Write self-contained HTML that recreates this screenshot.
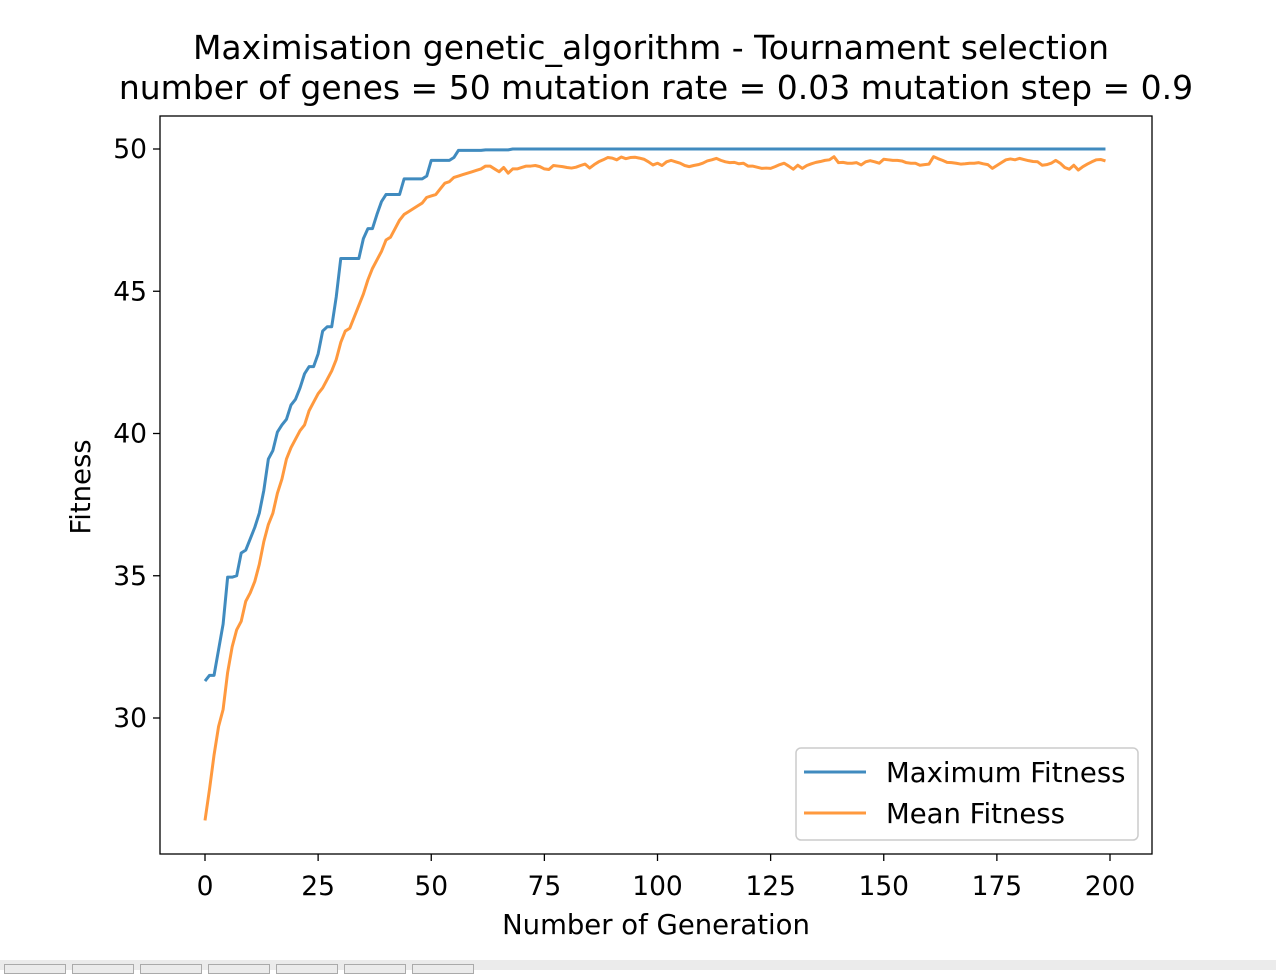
<!DOCTYPE html>
<html><head><meta charset="utf-8"><style>
body{margin:0;background:#fff;width:1276px;height:970px;overflow:hidden;position:relative;font-family:"Liberation Sans","DejaVu Sans",sans-serif}
#strip{position:absolute;left:0;top:960px;width:1276px;height:10px;background:#ebebeb}
.btn{position:absolute;top:964px;width:62px;height:10px;border:1px solid #aaa;box-sizing:border-box;background:#ebebeb}
</style></head><body>
<svg id="chart" width="1276" height="960" style="position:absolute;left:0;top:0" font-family="DejaVu Sans, Liberation Sans, sans-serif">
<text x="651" y="59" font-size="33" text-anchor="middle" fill="#000">Maximisation genetic_algorithm - Tournament selection</text>
<text x="656" y="99" font-size="33" text-anchor="middle" fill="#000">number of genes = 50 mutation rate = 0.03 mutation step = 0.9</text>
<g id="xt"></g><g id="yt"></g>
<g id="lines"></g>
<rect x="160" y="116" width="992" height="738" fill="none" stroke="#000" stroke-width="1.3"/>
<text x="656" y="934" font-size="27.5" text-anchor="middle">Number of Generation</text>
<text transform="translate(90,487) rotate(-90)" font-size="27.5" text-anchor="middle">Fitness</text>
<g>
<rect x="796" y="748" width="342" height="92" rx="5" fill="#fff" fill-opacity="0.8" stroke="#ccc" stroke-width="1.5"/>
<line x1="804" y1="772" x2="866" y2="772" stroke="#1f77b4" stroke-opacity="0.85" stroke-width="3"/>
<text x="886" y="782" font-size="27.5">Maximum Fitness</text>
<line x1="804" y1="813" x2="866" y2="813" stroke="#ff7f0e" stroke-opacity="0.8" stroke-width="3"/>
<text x="886" y="823" font-size="27.5">Mean Fitness</text>
</g>
</svg>
<div id="strip"></div>
<div class="btn" style="left:4px"></div>
<div class="btn" style="left:72px"></div>
<div class="btn" style="left:140px"></div>
<div class="btn" style="left:208px"></div>
<div class="btn" style="left:276px"></div>
<div class="btn" style="left:344px"></div>
<div class="btn" style="left:412px"></div>
<script>
const xTicks=[0,25,50,75,100,125,150,175,200];
const yTicks=[30,35,40,45,50];
const maxFitnessEarly=[31.3,31.5,31.5,32.4,33.3,34.95,34.95,35.0,35.8,35.9,36.3,36.7,37.2,38.0,39.1,39.4,40.05,40.3,40.5,41.0,41.2,41.6,42.1,42.35,42.35,42.8,43.6,43.75,43.75,44.8,46.15,46.15,46.15,46.15,46.15,46.85,47.2,47.2,47.7,48.15,48.4,48.4,48.4,48.4,48.95,48.95,48.95,48.95,48.95,49.05,49.6,49.6,49.6,49.6,49.6,49.7,49.95,49.95,49.95,49.95,49.95,49.95,49.97,49.97,49.97,49.97,49.97,49.97];
const maxFitnessLate=new Array(132).fill(50);
const meanFitness=[26.4,27.5,28.7,29.7,30.3,31.6,32.5,33.1,33.4,34.1,34.4,34.8,35.4,36.2,36.8,37.2,37.9,38.4,39.1,39.5,39.8,40.1,40.3,40.8,41.1,41.4,41.6,41.9,42.2,42.6,43.2,43.6,43.7,44.1,44.5,44.9,45.4,45.8,46.1,46.4,46.8,46.9,47.2,47.5,47.7,47.8,47.9,48.0,48.1,48.3,48.35,48.4,48.6,48.8,48.85,49.0,49.05,49.1,49.15,49.2,49.25,49.3,49.4,49.4,49.3,49.2,49.35,49.15,49.3,
49.3,49.35,49.4,49.4,49.42,49.38,49.3,49.28,49.42,49.4,49.38,49.35,49.33,49.36,49.42,49.47,49.33,49.45,49.55,49.62,49.7,49.68,49.62,49.72,49.66,49.7,49.71,49.68,49.64,49.55,49.44,49.5,49.42,49.55,49.6,49.55,49.5,49.42,49.38,49.42,49.45,49.5,49.58,49.62,49.67,49.6,49.55,49.52,49.53,49.48,49.5,49.4,49.4,49.36,49.32,49.33,49.32,49.38,49.45,49.5,49.4,49.29,49.43,49.32,49.42,49.48,49.53,49.56,49.6,49.62,49.73,49.52,49.53,49.5,49.5,49.52,49.44,49.55,49.59,49.55,49.5,49.64,49.62,49.6,49.6,49.58,49.52,49.5,49.5,49.43,49.45,49.47,49.73,49.66,49.6,49.53,49.52,49.5,49.47,49.48,49.5,49.5,49.52,49.48,49.45,49.32,49.42,49.52,49.62,49.65,49.62,49.67,49.63,49.59,49.56,49.55,49.43,49.45,49.5,49.6,49.5,49.35,49.29,49.43,49.26,49.38,49.47,49.55,49.62,49.63,49.58];
const maxFitness=maxFitnessEarly.concat(maxFitnessLate).slice(0,200);
const NS="http://www.w3.org/2000/svg";
const xs=g=>205+(g/200)*905;
const ys=v=>149+(50-v)*28.45;
function mk(t,a){const e=document.createElementNS(NS,t);for(const k in a)e.setAttribute(k,a[k]);return e;}
const xt=document.getElementById('xt'),yt=document.getElementById('yt'),ln=document.getElementById('lines');
xTicks.forEach(t=>{const x=xs(t);
 const l=mk('line',{x1:x,y1:854,x2:x,y2:861,stroke:'#000','stroke-width':1.3});
 
 
 xt.appendChild(l);
 const s=mk('text',{x:x,y:895,'font-size':26.5,'text-anchor':'middle'});s.textContent=t;
 
 
 xt.appendChild(s);});
yTicks.forEach(t=>{const y=ys(t);
 const l=mk('line',{x1:153,y1:y,x2:160,y2:y,stroke:'#000','stroke-width':1.3});
 
 
 yt.appendChild(l);
 const s=mk('text',{x:147,y:y+9,'font-size':26.5,'text-anchor':'end'});s.textContent=t;
 
 
 yt.appendChild(s);});
function path(arr,col,op,name){const d=arr.map((v,i)=>(i?'L':'M')+xs(i).toFixed(2)+','+ys(v).toFixed(2)).join('');
 const p=mk('path',{d:d,fill:'none',stroke:col,'stroke-opacity':op,'stroke-width':3,'stroke-linejoin':'round'});
 
 
 ln.appendChild(p);}
path(maxFitness,'#1f77b4',0.85,'max-fitness-line');
path(meanFitness,'#ff7f0e',0.8,'mean-fitness-line');
</script>
</body></html>
